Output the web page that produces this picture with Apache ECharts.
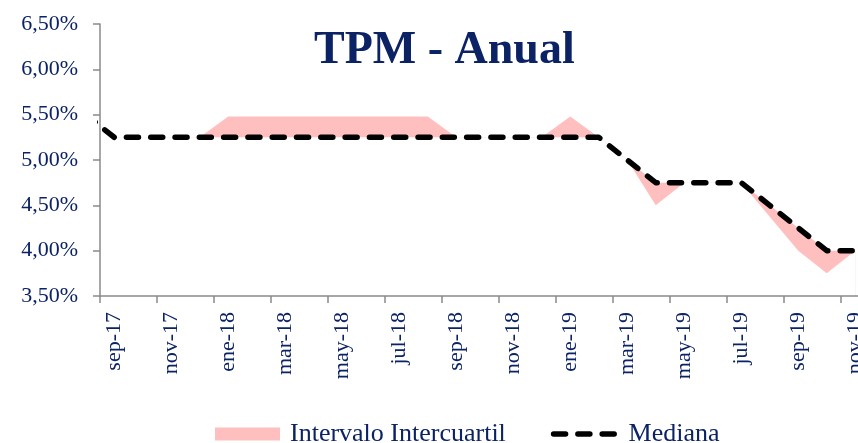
<!DOCTYPE html>
<html>
<head>
<meta charset="utf-8">
<script src="https://cdn.jsdelivr.net/npm/echarts@6/dist/echarts.min.js"></script>
<style>
html,body{margin:0;padding:0;background:#ffffff;}
#chart{width:858px;height:443px;}
</style>
</head>
<body>
<div id="chart"></div>
<script>
// Monthly survey points; the first (ago-17) lies before the axis start and is clipped.
const months = ['ago-17','sep-17','oct-17','nov-17','dic-17','ene-18','feb-18','mar-18','abr-18','may-18','jun-18','jul-18','ago-18','sep-18','oct-18','nov-18','dic-18','ene-19','feb-19','mar-19','abr-19','may-19','jun-19','jul-19','ago-19','sep-19','oct-19','nov-19'];
const axisMonths = ['sep-17','oct-17','nov-17','dic-17','ene-18','feb-18','mar-18','abr-18','may-18','jun-18','jul-18','ago-18','sep-18','oct-18','nov-18','dic-18','ene-19','feb-19','mar-19','abr-19','may-19','jun-19','jul-19','ago-19','sep-19','oct-19','nov-19'];
const mediana = [5.50,5.25,5.25,5.25,5.25,5.25,5.25,5.25,5.25,5.25,5.25,5.25,5.25,5.25,5.25,5.25,5.25,5.25,5.25,5.00,4.75,4.75,4.75,4.75,4.50,4.25,4.00,4.00];
const cuartil1 = [5.50,5.25,5.25,5.25,5.25,5.25,5.25,5.25,5.25,5.25,5.25,5.25,5.25,5.25,5.25,5.25,5.25,5.25,5.25,5.00,4.50,4.75,4.75,4.75,4.375,4.00,3.75,4.00];
const cuartil3 = [5.50,5.25,5.25,5.25,5.25,5.48,5.48,5.48,5.48,5.48,5.48,5.48,5.48,5.25,5.25,5.25,5.25,5.48,5.25,5.00,4.75,4.75,4.75,4.75,4.50,4.25,4.00,4.00];
const yTicks = [3.5, 6.5, 0.5]; // min, max, step

const navy = '#0B2265';
const pink = '#FFBFBF';
const font = '"Liberation Serif", "DejaVu Serif", serif';
const medianStyle = {color: '#000000', width: 5.5, type: [12, 12.3], cap: 'round', join: 'round'};

const idx = i => i - 1; // position relative to sep-17
const lowData = cuartil1.map((v, i) => [idx(i), v]);
const highData = cuartil3.map((v, i) => [idx(i), v]);
const medData = mediana.map((v, i) => [idx(i), v]);

const chart = echarts.init(document.getElementById('chart'), null, {renderer: 'canvas'});
chart.setOption({
  backgroundColor: '#ffffff',
  animation: false,
  title: {
    text: 'TPM - Anual',
    left: 314,
    top: 28,
    padding: 0,
    textStyle: {fontFamily: font, fontSize: 46, fontWeight: 'bold', color: navy}
  },
  legend: {
    left: 215,
    top: 421,
    padding: 0,
    itemWidth: 65,
    itemHeight: 13,
    itemGap: 45,
    data: [
      {name: 'Intervalo Intercuartil', icon: 'rect'},
      {name: 'Mediana', itemStyle: {opacity: 0}, lineStyle: {color: '#000000', width: 5.5, type: [12, 12.3], cap: 'round'}}
    ],
    textStyle: {fontFamily: font, fontSize: 26, color: navy, padding: [0, 0, 0, 5]}
  },
  grid: {left: 100, right: -11.5, top: 24, bottom: 147, outerBoundsMode: 'none', containLabel: false},
  xAxis: [{
    type: 'category',
    data: axisMonths,
    boundaryGap: true,
    z: 10,
    axisLine: {onZero: false, lineStyle: {color: '#8a8a8a', width: 1.5}},
    axisTick: {show: true, interval: 1, length: 7, lineStyle: {color: '#8a8a8a', width: 1.5}},
    axisLabel: {interval: 1, rotate: 90, margin: 16, fontFamily: font, fontSize: 22, color: navy},
    splitLine: {show: false}
  }, {
    type: 'value',
    min: -0.5,
    max: axisMonths.length - 0.5,
    show: false
  }],
  yAxis: {
    type: 'value',
    min: yTicks[0],
    max: yTicks[1],
    interval: yTicks[2],
    z: 10,
    axisLine: {show: true, onZero: false, lineStyle: {color: '#8a8a8a', width: 1.5}},
    axisTick: {show: true, length: 7, lineStyle: {color: '#8a8a8a', width: 1.5}},
    axisLabel: {margin: 22, fontFamily: font, fontSize: 22, color: navy,
      formatter: v => v.toFixed(2).replace('.', ',') + '%'},
    splitLine: {show: false}
  },
  series: [{
    name: 'Intervalo Intercuartil',
    type: 'line',
    xAxisIndex: 1,
    data: highData,
    symbol: 'none',
    color: pink,
    itemStyle: {color: pink},
    lineStyle: {width: 0, opacity: 0},
    areaStyle: {color: pink, opacity: 1, origin: 'start'},
    z: 2,
    clip: true
  }, {
    name: 'q1mask',
    type: 'line',
    xAxisIndex: 1,
    data: lowData,
    symbol: 'none',
    color: '#ffffff',
    lineStyle: {width: 0, opacity: 0},
    areaStyle: {color: '#ffffff', opacity: 1, origin: 'start'},
    z: 3,
    silent: true,
    clip: true
  }, {
    name: 'Mediana',
    type: 'line',
    xAxisIndex: 1,
    data: medData,
    symbol: 'none',
    color: '#000000',
    lineStyle: medianStyle,
    z: 5,
    clip: true
  }]
});
</script>
</body>
</html>
